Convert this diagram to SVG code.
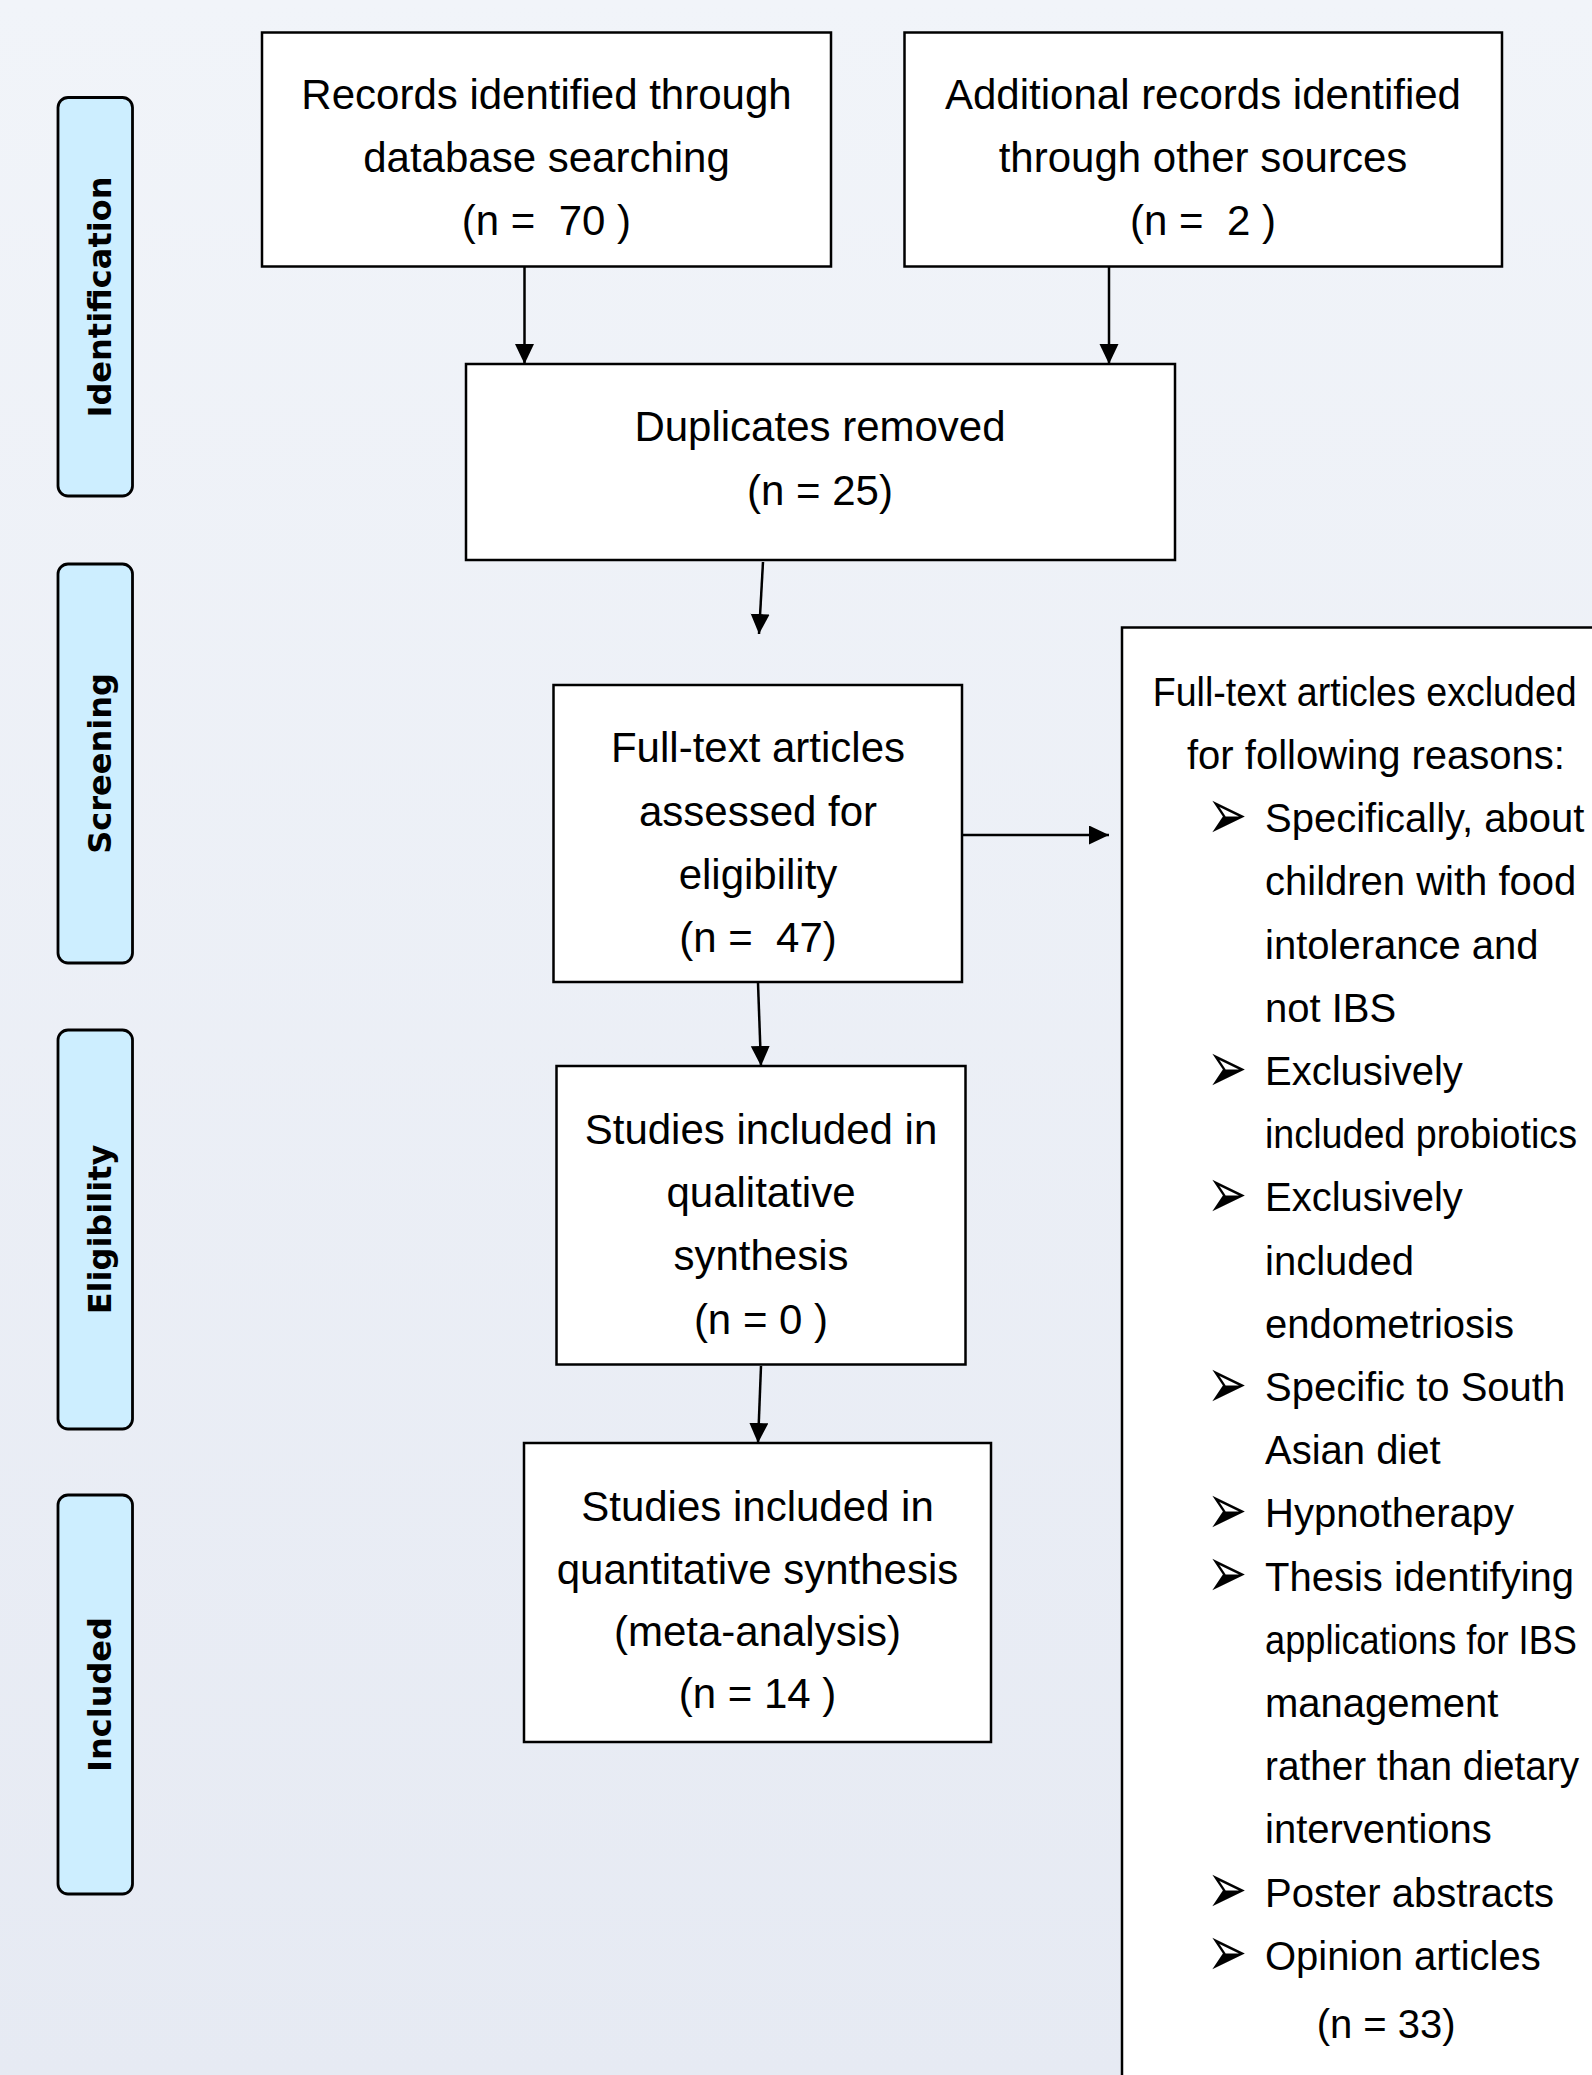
<svg xmlns="http://www.w3.org/2000/svg" width="1592" height="2075" viewBox="0 0 1592 2075">
  <defs>
    <linearGradient id="bg" x1="0" y1="0" x2="0" y2="1">
      <stop offset="0" stop-color="#f1f4f9"/>
      <stop offset="1" stop-color="#e6eaf3"/>
    </linearGradient>
    <marker id="arr" markerUnits="userSpaceOnUse" markerWidth="22" markerHeight="20" refX="20" refY="9.5" orient="auto">
      <path d="M0,0 L20,9.5 L0,19 z" fill="#000"/>
    </marker>
    <style>
      .box { fill: #ffffff; stroke: #000; stroke-width: 2.5; }
      .lab { fill: #cdeeff; stroke: #000; stroke-width: 2.8; }
      .labt { font-family: "DejaVu Sans", "Liberation Sans", sans-serif; font-weight: bold; font-size: 32px; fill: #000; text-anchor: middle; }
      .t { font-family: "Liberation Sans", Arial, sans-serif; font-size: 42px; fill: #000; text-anchor: middle; }
      .r { font-family: "Liberation Sans", Arial, sans-serif; font-size: 40px; fill: #000; }
      .b { font-family: "DejaVu Sans", sans-serif; font-size: 48px; fill: #000; }
      .con { stroke: #000; stroke-width: 2.5; fill: none; marker-end: url(#arr); }
    </style>
  </defs>
  <rect x="0" y="0" width="1592" height="2075" fill="url(#bg)"/>

  <g id="label-identification">
    <rect class="lab" x="58" y="97.5" width="74.5" height="398.5" rx="10"/>
    <text class="labt" transform="translate(111,297) rotate(-90)">Identification</text>
  </g>
  <g id="label-screening">
    <rect class="lab" x="58" y="564" width="74.5" height="399" rx="10"/>
    <text class="labt" transform="translate(111,763.5) rotate(-90)">Screening</text>
  </g>
  <g id="label-eligibility">
    <rect class="lab" x="58" y="1030" width="74.5" height="399" rx="10"/>
    <text class="labt" transform="translate(111,1229.5) rotate(-90)">Eligibility</text>
  </g>
  <g id="label-included">
    <rect class="lab" x="58" y="1495" width="74.5" height="399" rx="10"/>
    <text class="labt" transform="translate(111,1694.5) rotate(-90)">Included</text>
  </g>

  <g id="connectors">
    <line class="con" x1="524.5" y1="267" x2="524.5" y2="364"/>
    <line class="con" x1="1109" y1="267" x2="1109" y2="364"/>
    <line class="con" x1="763" y1="562" x2="759" y2="634"/>
    <line class="con" x1="758" y1="983" x2="761" y2="1066"/>
    <line class="con" x1="761" y1="1366" x2="758" y2="1443"/>
    <line class="con" x1="962" y1="835" x2="1109" y2="835"/>
  </g>

  <g id="records-database">
    <rect class="box" x="262" y="32.5" width="569" height="234"/>
    <text class="t" x="546.5" y="109">Records identified through</text>
    <text class="t" x="546.5" y="172">database searching</text>
    <text class="t" x="546.5" y="235" xml:space="preserve">(n =  70 )</text>
  </g>
  <g id="records-other">
    <rect class="box" x="904.5" y="32.5" width="597.5" height="234"/>
    <text class="t" x="1203" y="109">Additional records identified</text>
    <text class="t" x="1203" y="172">through other sources</text>
    <text class="t" x="1203" y="235" xml:space="preserve">(n =  2 )</text>
  </g>
  <g id="duplicates">
    <rect class="box" x="466" y="364" width="709" height="196"/>
    <text class="t" x="820" y="441">Duplicates removed</text>
    <text class="t" x="820" y="505">(n = 25)</text>
  </g>
  <g id="fulltext-assessed">
    <rect class="box" x="553.5" y="685" width="408.5" height="297"/>
    <text class="t" x="758" y="762">Full-text articles</text>
    <text class="t" x="758" y="826">assessed for</text>
    <text class="t" x="758" y="889">eligibility</text>
    <text class="t" x="758" y="952" xml:space="preserve">(n =  47)</text>
  </g>
  <g id="qualitative">
    <rect class="box" x="556.5" y="1066" width="409" height="298.5"/>
    <text class="t" x="761" y="1144">Studies included in</text>
    <text class="t" x="761" y="1207">qualitative</text>
    <text class="t" x="761" y="1270">synthesis</text>
    <text class="t" x="761" y="1334">(n = 0 )</text>
  </g>
  <g id="quantitative">
    <rect class="box" x="524" y="1443" width="467" height="299"/>
    <text class="t" x="757.5" y="1521">Studies included in</text>
    <text class="t" x="757.5" y="1584">quantitative synthesis</text>
    <text class="t" x="757.5" y="1646">(meta-analysis)</text>
    <text class="t" x="757.5" y="1708">(n = 14 )</text>
  </g>

  <g id="excluded">
    <rect class="box" x="1122" y="627.5" width="520" height="1500"/>
    <text class="r" x="1152.7" y="705.8" textLength="424" lengthAdjust="spacingAndGlyphs">Full-text articles excluded</text>
    <text class="r" x="1187" y="769">for following reasons:</text>
    <text class="b" transform="translate(1207,838.5) scale(1,1.5)">➢</text>
    <text class="r" x="1265" y="832">Specifically, about</text>
    <text class="r" x="1265" y="895.4">children with food</text>
    <text class="r" x="1265" y="958.6">intolerance and</text>
    <text class="r" x="1265" y="1021.8">not IBS</text>
    <text class="b" transform="translate(1207,1091.5) scale(1,1.5)">➢</text>
    <text class="r" x="1265" y="1085">Exclusively</text>
    <text class="r" x="1265" y="1148.2" textLength="312" lengthAdjust="spacingAndGlyphs">included probiotics</text>
    <text class="b" transform="translate(1207,1217.9) scale(1,1.5)">➢</text>
    <text class="r" x="1265" y="1211.4">Exclusively</text>
    <text class="r" x="1265" y="1274.6">included</text>
    <text class="r" x="1265" y="1337.8">endometriosis</text>
    <text class="b" transform="translate(1207,1407.5) scale(1,1.5)">➢</text>
    <text class="r" x="1265" y="1401">Specific to South</text>
    <text class="r" x="1265" y="1464.2">Asian diet</text>
    <text class="b" transform="translate(1207,1533.9) scale(1,1.5)">➢</text>
    <text class="r" x="1265" y="1527.4">Hypnotherapy</text>
    <text class="b" transform="translate(1207,1597.1) scale(1,1.5)">➢</text>
    <text class="r" x="1265" y="1590.6">Thesis identifying</text>
    <text class="r" x="1265" y="1653.8" textLength="312" lengthAdjust="spacingAndGlyphs">applications for IBS</text>
    <text class="r" x="1265" y="1717">management</text>
    <text class="r" x="1265" y="1780.2" textLength="314" lengthAdjust="spacingAndGlyphs">rather than dietary</text>
    <text class="r" x="1265" y="1843.4">interventions</text>
    <text class="b" transform="translate(1207,1913.1) scale(1,1.5)">➢</text>
    <text class="r" x="1265" y="1906.6">Poster abstracts</text>
    <text class="b" transform="translate(1207,1976.3) scale(1,1.5)">➢</text>
    <text class="r" x="1265" y="1969.8">Opinion articles</text>
    <text class="r" x="1316.7" y="2038">(n = 33)</text>
  </g>
</svg>
